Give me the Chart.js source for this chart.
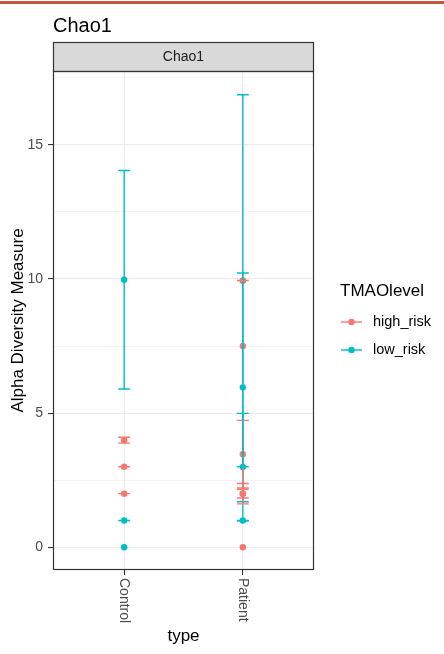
<html>
<head>
<title>Chao1</title>
<script src="https://cdn.jsdelivr.net/npm/chart.js"></script>
<style>
  body { margin: 0; background: #ffffff; }
  #wrap { position: absolute; left: 0; top: 0; width: 444px; height: 654px; }
  #topline { position: absolute; left: 0; top: 1px; width: 444px; height: 3px; background: #c4553f; }
</style>
</head>
<body>
<div id="wrap"><canvas id="chao1"></canvas></div>
<div id="topline"></div>
<script>
const categories = ['Control', 'Patient'];
const levels = ['high_risk', 'low_risk'];
const levelColors = ['#F8766D', '#00BFC4'];
const yBreaks = [0, 5, 10, 15];

// one entry per sample, kept in data order (error bars get drawn in this order)
const sampleType  = ['Control', 'Control', 'Control', 'Control', 'Control', 'Control',
                     'Patient', 'Patient', 'Patient', 'Patient', 'Patient', 'Patient', 'Patient', 'Patient', 'Patient', 'Patient'];
const sampleLevel = ['low_risk', 'low_risk', 'low_risk', 'high_risk', 'high_risk', 'high_risk',
                     'low_risk', 'low_risk', 'high_risk', 'low_risk', 'low_risk', 'high_risk', 'high_risk', 'high_risk', 'high_risk', 'high_risk'];
const sampleValue = [9.97, 1, 0, 3.99, 3, 2,
                     2.99, 5.96, 3.47, 9.93, 1, 9.94, 7.5, 2, 2, 0];
const sampleSe    = [4.07, 0, null, 0.11, 0, 0,
                     2.0, 4.26, 1.26, 6.93, 0, 0, null, 0.38, 0.16, null];

const FONT = '"Liberation Sans", Arial, sans-serif';
const CAP = 0.1; // errorbar width in category units

Chart.defaults.font.family = FONT;

function catX(k) {
  return categories.indexOf(sampleType[k]) + 1;
}

// red first so its points sit on top of the teal ones
const datasets = levels.map((lv, i) => {
  const pts = [];
  sampleValue.forEach((v, k) => {
    if (sampleLevel[k] === lv) pts.push({ x: catX(k), y: v });
  });
  return {
    label: lv,
    data: pts,
    pointRadius: 3.2,
    pointHoverRadius: 3.2,
    pointBackgroundColor: levelColors[i],
    pointBorderWidth: 0,
    showLine: false
  };
});

const errorBars = {
  id: 'errorBars',
  afterDatasetsDraw(chart) {
    const { ctx, scales: { x, y } } = chart;
    ctx.save();
    ctx.lineWidth = 1.4;
    sampleValue.forEach((v, k) => {
      const se = sampleSe[k];
      if (se === null) return;
      const c = catX(k);
      const px = x.getPixelForValue(c);
      const x0 = x.getPixelForValue(c - CAP / 2);
      const x1 = x.getPixelForValue(c + CAP / 2);
      const hi = y.getPixelForValue(v + se);
      const lo = y.getPixelForValue(v - se);
      ctx.strokeStyle = levelColors[levels.indexOf(sampleLevel[k])];
      ctx.beginPath();
      ctx.moveTo(x0, hi); ctx.lineTo(x1, hi);
      ctx.moveTo(px, hi); ctx.lineTo(px, lo);
      ctx.moveTo(x0, lo); ctx.lineTo(x1, lo);
      ctx.stroke();
    });
    ctx.restore();
  }
};

// panel border, facet strip, plot title, rotated x labels and the legend
const decor = {
  id: 'decor',
  afterDraw(chart) {
    const { ctx, chartArea: a, scales: { x } } = chart;
    ctx.save();

    ctx.fillStyle = '#000';
    ctx.font = '20px ' + FONT;
    ctx.textAlign = 'left';
    ctx.textBaseline = 'alphabetic';
    ctx.fillText('Chao1', a.left, 32);

    ctx.fillStyle = '#d9d9d9';
    ctx.fillRect(a.left, 42, a.right - a.left, a.top - 42);
    ctx.strokeStyle = '#333333';
    ctx.lineWidth = 1.2;
    ctx.strokeRect(a.left + 0.5, 42.5, a.right - a.left - 1, a.top - 42);
    ctx.fillStyle = '#1a1a1a';
    ctx.font = '14px ' + FONT;
    ctx.textAlign = 'center';
    ctx.textBaseline = 'middle';
    ctx.fillText('Chao1', (a.left + a.right) / 2, 57);

    ctx.strokeRect(a.left + 0.5, a.top + 0.5, a.right - a.left - 1, a.bottom - a.top - 1);

    ctx.fillStyle = '#4d4d4d';
    ctx.font = '14px ' + FONT;
    ctx.textAlign = 'left';
    categories.forEach((c, i) => {
      ctx.save();
      ctx.translate(x.getPixelForValue(i + 1), a.bottom + 8);
      ctx.rotate(Math.PI / 2);
      ctx.fillText(c, 0, 0);
      ctx.restore();
    });

    ctx.fillStyle = '#000';
    ctx.font = '17px ' + FONT;
    ctx.textBaseline = 'alphabetic';
    ctx.fillText('TMAOlevel', 340, 296);
    levels.forEach((lv, i) => {
      const cy = 322 + i * 28;
      ctx.strokeStyle = levelColors[i];
      ctx.lineWidth = 1.4;
      ctx.beginPath();
      ctx.moveTo(341, cy); ctx.lineTo(362, cy);
      ctx.stroke();
      ctx.fillStyle = levelColors[i];
      ctx.beginPath();
      ctx.arc(351.5, cy, 3.2, 0, Math.PI * 2);
      ctx.fill();
      ctx.fillStyle = '#000';
      ctx.font = '14.5px ' + FONT;
      ctx.textBaseline = 'middle';
      ctx.fillText(lv, 373, cy);
    });
    ctx.restore();
  }
};

const isBreak = v => yBreaks.some(b => Math.abs(b - v) < 1e-9);

new Chart(document.getElementById('chao1'), {
  type: 'scatter',
  data: { datasets: datasets },
  plugins: [errorBars, decor],
  options: {
    responsive: true,
    maintainAspectRatio: false,
    animation: false,
    events: [],
    layout: { padding: { top: 71, left: 8, right: 130, bottom: 7 } },
    plugins: { legend: { display: false }, tooltip: { enabled: false } },
    scales: {
      x: {
        type: 'linear',
        min: 0.4,
        max: 2.6,
        afterFit(scale) { scale.height = 77; },
        ticks: { stepSize: 1, includeBounds: false, display: false },
        grid: { color: '#ebebeb', lineWidth: 1.1, tickColor: '#333333', tickLength: 5 },
        border: { display: false },
        title: { display: true, text: 'type', color: '#000', font: { size: 17 }, padding: 0 }
      },
      y: {
        type: 'linear',
        min: -0.845,
        max: 17.745,
        afterFit(scale) { scale.width = 45; },
        ticks: {
          stepSize: 2.5,
          includeBounds: false,
          autoSkip: false,
          padding: 5,
          color: '#4d4d4d',
          font: { size: 14 },
          callback: v => (isBreak(v) ? String(v) : '')
        },
        grid: {
          color: '#ebebeb',
          lineWidth: ctx => (ctx.tick && isBreak(ctx.tick.value) ? 1.1 : 0.6),
          tickColor: ctx => (ctx.tick && isBreak(ctx.tick.value) ? '#333333' : 'rgba(0,0,0,0)'),
          tickLength: 5
        },
        border: { display: false },
        title: { display: true, text: 'Alpha Diversity Measure', color: '#000', font: { size: 17 }, padding: 0 }
      }
    }
  }
});
</script>
</body>
</html>
